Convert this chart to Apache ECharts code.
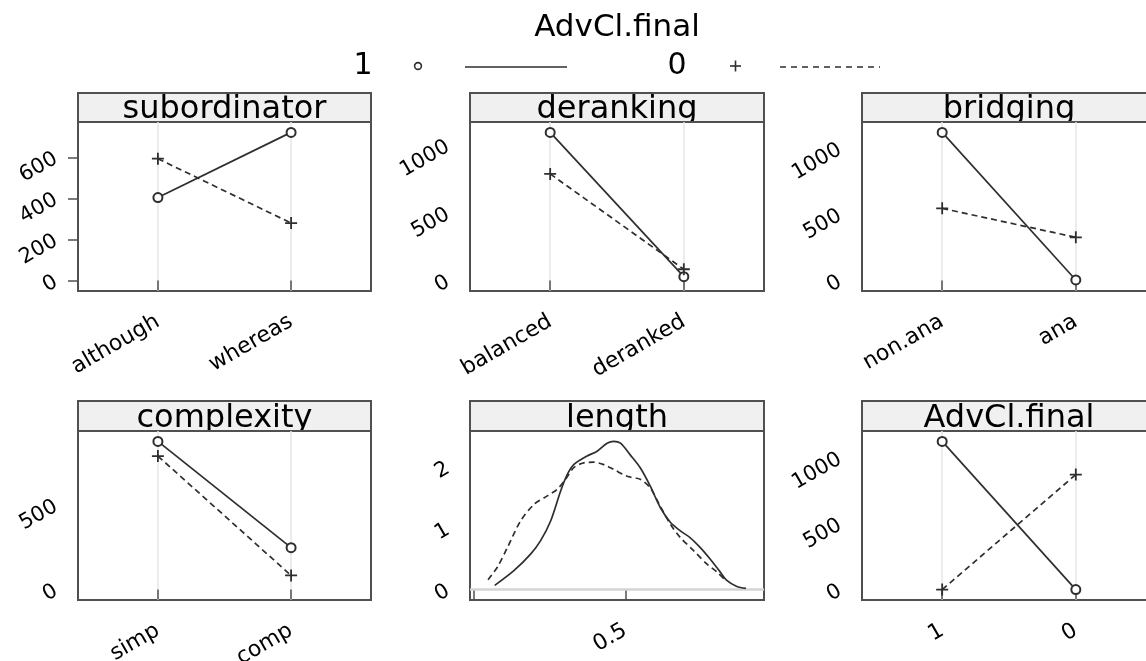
<!DOCTYPE html>
<html><head><meta charset="utf-8">
<script src="https://cdn.jsdelivr.net/npm/echarts@6/dist/echarts.min.js"></script>
<style>html,body{margin:0;padding:0;background:#fff}#c{width:1146px;height:661px}</style>
</head><body><div id="c"></div>
<script>
// ---------- DATA ----------
const legendTitle = 'AdvCl.final';
const groupNames = ['1', '0'];

const subordinatorCats = ['although', 'whereas'];
const subordinator1 = [404, 721];
const subordinator0 = [593, 280];

const derankingCats = ['balanced', 'deranked'];
const deranking1 = [1096, 29];
const deranking0 = [789, 84];

const bridgingCats = ['non.ana', 'ana'];
const bridging1 = [1120, 5];
const bridging0 = [546, 327];

const complexityCats = ['simp', 'comp'];
const complexity1 = [877, 248];
const complexity0 = [790, 84];

const advclCats = ['1', '0'];
const advcl1 = [1125, 0];
const advcl0 = [0, 873];

// density curves for "length"
const lengthX1 = [0.070,0.133,0.188,0.221,0.254,0.287,0.309,0.330,0.374,0.407,0.440,0.462,0.484,0.516,0.549,0.582,0.615,0.648,0.681,0.713,0.746,0.779,0.812,0.834,0.867,0.897];
const lengthY1 = [0.07,0.31,0.58,0.80,1.12,1.61,1.88,2.04,2.18,2.26,2.39,2.42,2.39,2.20,1.99,1.69,1.34,1.10,0.96,0.85,0.69,0.50,0.29,0.15,0.05,0.02];
const lengthX0 = [0.048,0.079,0.112,0.155,0.199,0.243,0.276,0.303,0.330,0.363,0.396,0.429,0.462,0.506,0.549,0.582,0.615,0.648,0.681,0.724,0.768,0.801,0.828];
const lengthY0 = [0.16,0.37,0.69,1.12,1.39,1.53,1.64,1.80,1.99,2.07,2.08,2.04,1.96,1.85,1.80,1.66,1.36,1.07,0.85,0.64,0.42,0.29,0.16];

// tick values
const subordinatorYTicks = [0, 200, 400, 600];
const countYTicks = [0, 500, 1000];
const complexityYTicks = [0, 500];
const lengthYTicks = [0, 1, 2];
const lengthXTicks = [0, 0.5];
const lengthXLabels = [0.5];

// ---------- LAYOUT / STYLE ----------
const FONT = 'DejaVu Sans';
const LINE = '#2e2e2e';
const BORDER = '#505050';
const cols = [[78, 293], [470, 294], [862, 294]];
const rows = [{stripTop: 93, top: 122, h: 169}, {stripTop: 401, top: 431, h: 169}];
const PLUS = 'path://M4.25,0H5.75V4.25H10V5.75H5.75V10H4.25V5.75H0V4.25H4.25Z';

const panels = [
  {title: 'subordinator', cats: subordinatorCats, g1: subordinator1, g0: subordinator0, yTicks: subordinatorYTicks, yTickShow: true, r: 0, c: 0},
  {title: 'deranking', cats: derankingCats, g1: deranking1, g0: deranking0, yTicks: countYTicks, r: 0, c: 1},
  {title: 'bridging', cats: bridgingCats, g1: bridging1, g0: bridging0, yTicks: countYTicks, r: 0, c: 2},
  {title: 'complexity', cats: complexityCats, g1: complexity1, g0: complexity0, yTicks: complexityYTicks, r: 1, c: 0},
  {title: 'length', density: true, yTicks: lengthYTicks, r: 1, c: 1},
  {title: 'AdvCl.final', cats: advclCats, g1: advcl1, g0: advcl0, yTicks: countYTicks, r: 1, c: 2}
];

function padRange(lo, hi) { const s = hi - lo; return [lo - 0.07 * s, hi + 0.07 * s]; }

const grid = [], xAxis = [], yAxis = [], series = [], graphics = [];

panels.forEach((p, i) => {
  const [left, width] = cols[p.c];
  const row = rows[p.r];
  grid.push({left: left, top: row.top, width: width, height: row.h, show: true,
    backgroundColor: '#ffffff', borderColor: BORDER, borderWidth: 2, outerBoundsMode: 'none', containLabel: false});

  // strip
  graphics.push({type: 'rect', z: -5, shape: {x: left, y: row.stripTop, width: width, height: row.top - row.stripTop},
    style: {fill: '#f0f0f0', stroke: BORDER, lineWidth: 2}});
  graphics.push({type: 'text', z: -4, x: left + width / 2, y: row.top + 4,
    style: {text: p.title, font: '32px "' + FONT + '"', fill: '#000', align: 'center', verticalAlign: 'bottom'}});

  let yVals, xMin, xMax;
  const labelStyle = {fontFamily: FONT, color: '#000'};
  if (p.density) {
    yVals = lengthY1.concat(lengthY0, [0]);
    const xs = lengthX1.concat(lengthX0);
    [xMin, xMax] = padRange(Math.min(...xs), Math.max(...xs));
    xAxis.push({type: 'value', gridIndex: i, min: xMin, max: xMax,
      axisLine: {show: false},
      axisTick: {show: true, length: 10, customValues: lengthXTicks, lineStyle: {color: BORDER, width: 1.5}},
      axisLabel: Object.assign({show: true, customValues: lengthXLabels, rotate: 30, fontSize: 22, margin: 29,
        formatter: v => String(v)}, labelStyle),
      splitLine: {show: false}});
  } else {
    yVals = p.g1.concat(p.g0, [0]);
    xMin = 0.4; xMax = p.cats.length + 0.6;
    const catTicks = p.cats.map((c, k) => k + 1);
    xAxis.push({type: 'value', gridIndex: i, min: xMin, max: xMax,
      axisLine: {show: false},
      axisTick: {show: true, length: 10, customValues: catTicks, lineStyle: {color: BORDER, width: 1.5}},
      axisLabel: Object.assign({show: true, customValues: catTicks, rotate: 30, fontSize: 22, margin: 29,
        formatter: v => p.cats[Math.round(v) - 1] || ''}, labelStyle),
      splitLine: {show: true, lineStyle: {color: '#e6e6e6', width: 1.5}}});
  }
  const [yMin, yMax] = padRange(Math.min(...yVals), Math.max(...yVals));
  yAxis.push({type: 'value', gridIndex: i, min: yMin, max: yMax,
    axisLine: {show: false},
    axisTick: {show: !!p.yTickShow, length: 10, customValues: p.yTicks, lineStyle: {color: BORDER, width: 1.5}},
    axisLabel: Object.assign({show: true, customValues: p.yTicks, rotate: 30, fontSize: 21, margin: 22,
      formatter: v => String(v)}, labelStyle),
    splitLine: {show: false}});

  if (p.density) {
    series.push({type: 'line', xAxisIndex: i, yAxisIndex: i, data: [], silent: true,
      markLine: {silent: true, symbol: 'none', label: {show: false}, z: 1,
        lineStyle: {color: '#d4d4d4', width: 2.5, type: 'solid'}, data: [{yAxis: 0}]}});
    series.push({type: 'line', name: groupNames[0], xAxisIndex: i, yAxisIndex: i, showSymbol: false, smooth: 0.3,
      data: lengthX1.map((x, k) => [x, lengthY1[k]]), lineStyle: {color: LINE, width: 1.7}, z: 3});
    series.push({type: 'line', name: groupNames[1], xAxisIndex: i, yAxisIndex: i, showSymbol: false, smooth: 0.3,
      data: lengthX0.map((x, k) => [x, lengthY0[k]]), lineStyle: {color: LINE, width: 1.7, type: [6, 4]}, z: 3});
  } else {
    series.push({type: 'line', name: groupNames[0], xAxisIndex: i, yAxisIndex: i,
      data: p.g1.map((v, k) => [k + 1, v]), symbol: 'emptyCircle', symbolSize: 9,
      itemStyle: {color: LINE, borderColor: LINE, borderWidth: 1.6},
      lineStyle: {color: LINE, width: 1.7}, z: 3});
    series.push({type: 'line', name: groupNames[1], xAxisIndex: i, yAxisIndex: i,
      data: p.g0.map((v, k) => [k + 1, v]), symbol: PLUS, symbolSize: 12, symbolKeepAspect: true,
      itemStyle: {color: LINE, borderWidth: 0},
      lineStyle: {color: LINE, width: 1.7, type: [6, 4]}, z: 3});
  }
});

// top key
graphics.push({type: 'text', x: 617, y: 28, style: {text: legendTitle, font: '31px "' + FONT + '"', fill: '#000', align: 'center', verticalAlign: 'middle'}});
graphics.push({type: 'text', x: 363, y: 66, style: {text: groupNames[0], font: '30px "' + FONT + '"', fill: '#000', align: 'center', verticalAlign: 'middle'}});
graphics.push({type: 'circle', shape: {cx: 418, cy: 66, r: 3.4}, style: {fill: 'none', stroke: LINE, lineWidth: 1.6}});
graphics.push({type: 'line', shape: {x1: 465, y1: 67, x2: 567, y2: 67}, style: {stroke: LINE, lineWidth: 1.6}});
graphics.push({type: 'text', x: 677, y: 66, style: {text: groupNames[1], font: '30px "' + FONT + '"', fill: '#000', align: 'center', verticalAlign: 'middle'}});
graphics.push({type: 'line', shape: {x1: 730, y1: 66, x2: 741, y2: 66}, style: {stroke: LINE, lineWidth: 1.6}});
graphics.push({type: 'line', shape: {x1: 735.5, y1: 60.5, x2: 735.5, y2: 71.5}, style: {stroke: LINE, lineWidth: 1.6}});
graphics.push({type: 'line', shape: {x1: 780, y1: 67, x2: 880, y2: 67}, style: {stroke: LINE, lineWidth: 1.6, lineDash: [6, 5]}});

const chart = echarts.init(document.getElementById('c'), null, {renderer: 'canvas'});
chart.setOption({
  animation: false,
  backgroundColor: '#ffffff',
  grid: grid, xAxis: xAxis, yAxis: yAxis, series: series,
  graphic: {elements: graphics}
});
</script>
</body></html>
